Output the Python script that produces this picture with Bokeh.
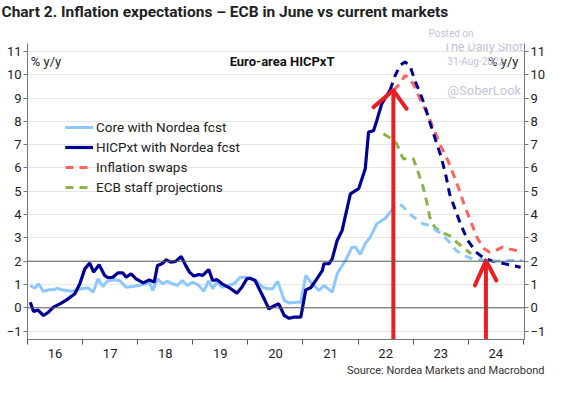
from bokeh.plotting import figure
from bokeh.models import (FixedTicker, LinearAxis, Range1d, Span, Label, Legend,
                          LegendItem, Title)
from bokeh.embed import file_html
from bokeh.resources import INLINE

# ---------------- data (decimal years, % y/y) ----------------
hicp_x = [2016.05, 2016.11, 2016.19, 2016.29, 2016.38, 2016.47, 2016.59, 2016.71, 2016.86, 2016.95,
          2017.04, 2017.13, 2017.20, 2017.30, 2017.40, 2017.46, 2017.55, 2017.64, 2017.73, 2017.79,
          2017.88, 2017.97, 2018.10, 2018.21, 2018.30, 2018.36, 2018.44, 2018.52, 2018.60, 2018.69,
          2018.79, 2018.87, 2018.94, 2019.02, 2019.11, 2019.18, 2019.29, 2019.36, 2019.44, 2019.53,
          2019.65, 2019.80, 2019.89, 2019.98, 2020.04, 2020.13, 2020.22, 2020.31, 2020.38, 2020.49,
          2020.56, 2020.66, 2020.75, 2020.84, 2020.96, 2021.05, 2021.14, 2021.23, 2021.35, 2021.38,
          2021.47, 2021.53, 2021.62, 2021.71, 2021.86, 2022.01, 2022.13, 2022.19, 2022.28, 2022.34,
          2022.43, 2022.58]
hicp_y = [0.24, -0.16, -0.10, -0.33, -0.19, 0.03, 0.17, 0.34, 0.60, 1.03,
          1.67, 1.92, 1.53, 1.85, 1.39, 1.29, 1.31, 1.50, 1.50, 1.31,
          1.46, 1.24, 1.07, 1.20, 1.10, 1.82, 1.89, 2.06, 1.96, 1.99,
          2.20, 1.82, 1.53, 1.36, 1.43, 1.39, 1.64, 1.17, 1.21, 1.03,
          0.88, 0.63, 0.88, 1.24, 1.27, 1.17, 0.74, 0.31, -0.04, 0.10,
          0.17, -0.33, -0.45, -0.40, -0.40, 0.77, 0.86, 1.17, 1.60, 1.89,
          1.89, 2.10, 2.89, 3.32, 4.89, 5.11, 5.97, 7.54, 7.60, 8.04,
          8.76, 9.33]

hicp_fc_x = [2022.58, 2022.67, 2022.76, 2022.85, 2022.94, 2023.03, 2023.12, 2023.21, 2023.30, 2023.42,
             2023.51, 2023.60, 2023.66, 2023.78, 2023.87, 2023.99, 2024.14, 2024.26, 2024.44, 2024.62,
             2024.80, 2024.95]
hicp_fc_y = [9.33, 9.95, 10.40, 10.55, 10.40, 9.75, 9.25, 8.68, 7.97, 7.10,
             6.46, 5.60, 4.89, 4.10, 3.53, 2.89, 2.39, 2.17, 2.00, 1.91,
             1.82, 1.74]

core_x = [2016.05, 2016.13, 2016.20, 2016.29, 2016.38, 2016.47, 2016.54, 2016.62, 2016.71, 2016.80,
          2016.89, 2016.98, 2017.10, 2017.19, 2017.28, 2017.37, 2017.44, 2017.55, 2017.67, 2017.79,
          2017.91, 2018.03, 2018.15, 2018.21, 2018.27, 2018.36, 2018.45, 2018.54, 2018.63, 2018.72,
          2018.81, 2018.90, 2018.99, 2019.11, 2019.20, 2019.29, 2019.36, 2019.44, 2019.53, 2019.65,
          2019.75, 2019.86, 2019.98, 2020.06, 2020.15, 2020.27, 2020.36, 2020.45, 2020.54, 2020.60,
          2020.66, 2020.75, 2020.90, 2020.96, 2021.05, 2021.14, 2021.29, 2021.38, 2021.53, 2021.62,
          2021.77, 2021.89, 2021.95, 2022.04, 2022.13, 2022.22, 2022.34, 2022.43, 2022.49, 2022.58]
core_y = [0.96, 0.84, 1.03, 0.70, 0.77, 0.77, 0.84, 0.77, 0.74, 0.71,
          0.77, 0.82, 0.86, 0.67, 1.24, 0.91, 1.13, 1.20, 1.17, 0.88,
          0.91, 0.96, 1.03, 1.10, 0.74, 1.24, 1.03, 1.14, 1.03, 0.96,
          1.17, 0.96, 1.10, 0.96, 0.71, 1.17, 0.82, 1.10, 0.88, 0.96,
          1.03, 1.31, 1.31, 1.24, 1.17, 0.88, 0.82, 0.82, 1.14, 0.74,
          0.31, 0.21, 0.24, 0.24, 1.39, 1.10, 0.74, 0.96, 0.67, 1.46,
          2.03, 2.60, 2.60, 2.29, 2.75, 3.03, 3.60, 3.75, 3.82, 4.10]

core_fc_x = [2022.58, 2022.70, 2022.79, 2022.88, 2022.97, 2023.09, 2023.18, 2023.30, 2023.42, 2023.51,
             2023.63, 2023.78, 2023.93, 2024.08, 2024.26, 2024.50, 2024.74, 2024.98]
core_fc_y = [4.10, 4.46, 4.39, 4.18, 3.96, 3.75, 3.60, 3.53, 3.32, 3.18,
             2.89, 2.46, 2.24, 2.10, 2.06, 2.00, 2.03, 2.03]

swaps_x = [2022.64, 2022.76, 2022.85, 2022.94, 2023.03, 2023.12, 2023.24, 2023.36, 2023.51, 2023.63,
           2023.75, 2023.84, 2023.93, 2024.05, 2024.17, 2024.29, 2024.38, 2024.50, 2024.62, 2024.74,
           2024.92]
swaps_y = [9.33, 9.61, 9.97, 9.83, 9.47, 8.97, 8.40, 7.75, 6.89, 6.32,
           5.60, 5.03, 4.39, 3.67, 2.96, 2.53, 2.39, 2.46, 2.60, 2.53,
           2.43]

ecb_x = [2022.46, 2022.61, 2022.70, 2022.79, 2022.82, 2023.00, 2023.06, 2023.18, 2023.24, 2023.30,
         2023.39, 2023.51, 2023.66, 2023.75, 2023.90, 2024.05]
ecb_y = [7.47, 7.25, 7.04, 6.54, 6.40, 6.40, 6.03, 5.18, 4.60, 3.89,
         3.46, 3.24, 3.10, 2.89, 2.60, 2.32]

# annotation arrows (hand-drawn red arrows)
arrow_x = [2022.64, 2024.32]
arrow_top = [9.33, 2.03]
arrow_bottom = [-1.45, -1.45]
arrow_head_xs = [[2022.28, 2022.64, 2022.88], [2024.12, 2024.32, 2024.51]]
arrow_head_ys = [[8.61, 9.33, 8.54], [0.96, 2.03, 1.17]]

year_ticks = [2016, 2017, 2018, 2019, 2020, 2021, 2022, 2023, 2024, 2025]
label_pos = [2016.5, 2017.5, 2018.5, 2019.5, 2020.5, 2021.5, 2022.5, 2023.5, 2024.5]
year_labels = ["16", "17", "18", "19", "20", "21", "22", "23", "24"]
y_ticks = [-1, 0, 1, 2, 3, 4, 5, 6, 7, 8, 9, 10, 11]

# ---------------- styles ----------------
DARK = "#000096"
LIGHT = "#8cc8ff"
RED = "#ff6060"
GREEN = "#8cb34a"
ARROW = "#eb1e23"
WM = "#c3c3e0"
FONT = "Roboto"

p = figure(width=548, height=378, output_backend="svg", toolbar_location=None,
           x_range=Range1d(2016.0, 2025.02), y_range=Range1d(-1.36, 11.34),
           min_border_left=27, min_border_right=22, min_border_top=43, min_border_bottom=39)
p.outline_line_color = None
p.background_fill_color = "white"
p.border_fill_color = "white"

# axes
xa = p.xaxis[0]
xa.ticker = FixedTicker(ticks=label_pos, minor_ticks=year_ticks)
xa.major_label_overrides = {k: v for k, v in zip(label_pos, year_labels)}
xa.major_tick_line_color = None
xa.major_tick_out = 5
xa.major_tick_in = 0
xa.minor_tick_line_color = "#555555"
xa.minor_tick_out = 5
xa.minor_tick_in = 0
xa.axis_line_color = "#777777"
xa.major_label_text_font = FONT
xa.major_label_text_font_size = "13px"
xa.major_label_text_color = "#222222"
xa.major_label_standoff = 4

ya = p.yaxis[0]
ra = LinearAxis()
p.add_layout(ra, "right")
for ax in (ya, ra):
    ax.ticker = FixedTicker(ticks=y_ticks)
    ax.major_tick_out = 4
    ax.major_tick_in = 0
    ax.minor_tick_line_color = None
    ax.axis_line_color = "#777777"
    ax.major_tick_line_color = "#777777"
    ax.major_label_text_font = FONT
    ax.major_label_text_font_size = "13px"
    ax.major_label_text_color = "#222222"
    ax.major_label_standoff = 2

p.xgrid.grid_line_color = None
p.ygrid.ticker = FixedTicker(ticks=y_ticks)
p.ygrid.grid_line_color = "#e6e6e6"

for v in (0, 2):
    p.add_layout(Span(location=v, dimension="width", line_color="#5a5a5a", line_width=1))

# series
core_l = p.line(core_x, core_y, line_color=LIGHT, line_width=3)
hicp_l = p.line(hicp_x, hicp_y, line_color=DARK, line_width=3.2)
ecb_l = p.line(ecb_x, ecb_y, line_color=GREEN, line_width=3, line_dash="8 6")
swaps_l = p.line(swaps_x, swaps_y, line_color=RED, line_width=3, line_dash="8 6")
hicp_fc_l = p.line(hicp_fc_x, hicp_fc_y, line_color=DARK, line_width=3, line_dash="8 6")
core_fc_l = p.line(core_fc_x, core_fc_y, line_color=LIGHT, line_width=3, line_dash="8 6")

# red arrows
p.segment(x0=arrow_x, y0=arrow_bottom, x1=arrow_x, y1=arrow_top, line_color=ARROW, line_width=4)
p.multi_line(xs=arrow_head_xs, ys=arrow_head_ys, line_color=ARROW, line_width=4,
             line_cap="round", line_join="round")

legend = Legend(items=[
    LegendItem(label="Core with Nordea fcst", renderers=[core_l, core_fc_l]),
    LegendItem(label="HICPxt with Nordea fcst", renderers=[hicp_l, hicp_fc_l]),
    LegendItem(label="Inflation swaps", renderers=[swaps_l]),
    LegendItem(label="ECB staff projections", renderers=[ecb_l]),
], location=(38, 142), orientation="vertical")
legend.glyph_width = 28
legend.glyph_height = 20
legend.label_height = 20
legend.spacing = 0
legend.padding = 0
legend.margin = 0
legend.label_standoff = 3
legend.border_line_color = None
legend.background_fill_alpha = 0
legend.label_text_font = FONT
legend.label_text_font_size = "13.5px"
legend.label_text_color = "#222222"
p.add_layout(legend, "center")

# in-plot texts
p.add_layout(Label(x=2016.06, y=10.57, text="% y/y", text_font=FONT, text_font_size="13px",
                   text_color="#222222", text_baseline="middle"))
p.add_layout(Label(x=2024.91, y=10.57, text="% y/y", text_font=FONT, text_font_size="13px",
                   text_color="#222222", text_baseline="middle", text_align="right"))
p.add_layout(Label(x=2020.62, y=10.57, text="Euro-area HICPxT", text_font=FONT,
                   text_font_size="13px", text_font_style="bold", text_color="#111111",
                   text_baseline="middle", text_align="center"))

# watermark
p.add_layout(Label(x=2023.55, y=11.21, text="The Daily Shot", text_font=FONT, text_font_size="12.5px",
                   text_color=WM, text_baseline="middle"))
p.add_layout(Label(x=2023.62, y=10.57, text="31-Aug-2022", text_font=FONT, text_font_size="10px",
                   text_color=WM, text_baseline="middle"))
p.add_layout(Label(x=2023.62, y=9.33, text="@SoberLook", text_font=FONT, text_font_size="13px",
                   text_color=WM, text_baseline="middle"))

posted = Title(text="Posted on", align="left", offset=401, standoff=10,
               text_font=FONT, text_font_size="10px", text_font_style="normal", text_color=WM)
p.add_layout(posted, "above")

# titles
p.title.text = "Chart 2. Inflation expectations \u2013 ECB in June vs current markets"
p.title.text_font = FONT
p.title.text_font_size = "15.5px"
p.title.text_font_style = "bold"
p.title.text_color = "#222222"
p.title.align = "left"
p.title.offset = -26
p.title.standoff = 0

src = Title(text="Source: Nordea Markets and Macrobond", align="right", offset=-20, standoff=2,
            text_font=FONT, text_font_size="11px", text_font_style="normal", text_color="#333333")
p.add_layout(src, "below")

open("out.html", "w").write(file_html(p, INLINE))
